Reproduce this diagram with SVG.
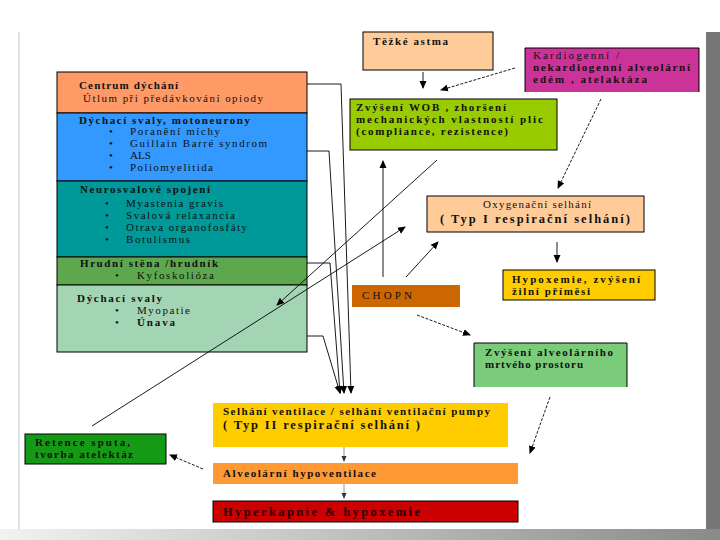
<svg xmlns="http://www.w3.org/2000/svg" width="720" height="540" viewBox="0 0 720 540">
<defs>
<marker id="ah" markerWidth="8" markerHeight="8" refX="7" refY="4" orient="auto" markerUnits="userSpaceOnUse"><path d="M0,0.5 L8,4 L0,7.5 Z" fill="#000"/></marker>
<marker id="ahg" markerWidth="6" markerHeight="6" refX="5" refY="3" orient="auto" markerUnits="userSpaceOnUse"><path d="M0,0.5 L6,3 L0,5.5 Z" fill="#333"/></marker>
<linearGradient id="bot" x1="0" x2="1" y1="0" y2="0"><stop offset="0" stop-color="#f2f2f2"/><stop offset="1" stop-color="#8a8a8a"/></linearGradient>
<style>
.b{stroke:#000;stroke-width:1}
.t{font-family:"Liberation Serif","Times New Roman",serif;font-size:11px;fill:#111}
.h{font-weight:bold}
.big{font-size:12.5px;font-weight:bold}
.c{fill:none;stroke:#000;stroke-width:0.9;marker-end:url(#ah)}
.d{stroke-dasharray:3,1.5}
.g{fill:none;stroke:#888;stroke-width:0.9;marker-end:url(#ahg)}
</style>
</defs>
<rect width="720" height="540" fill="#fff"/>
<line x1="19" y1="32" x2="19" y2="540" stroke="#cfdbe6" stroke-width="1.5"/>
<rect x="706" y="32" width="14" height="508" fill="#777"/>
<rect x="0" y="529" width="720" height="11" fill="url(#bot)"/>

<g id="centrum"><rect class="b" x="57" y="72" width="250" height="41" fill="#FF9966"/>
<text class="t h" x="79" y="89" textLength="99" lengthAdjust="spacing">Centrum dýchání</text>
<text class="t" x="83" y="102" textLength="180" lengthAdjust="spacing">Útlum při předávkování opiody</text></g>

<g id="motoneurony"><rect class="b" x="57" y="113" width="250" height="68" fill="#3399FF"/>
<text class="t h" x="79" y="124" textLength="171" lengthAdjust="spacing">Dýchací svaly, motoneurony</text>
<g class="t"><text x="109" y="135">•</text><text x="130" y="135" textLength="90" lengthAdjust="spacing">Poranění míchy</text>
<text x="109" y="147">•</text><text x="130" y="147" textLength="137" lengthAdjust="spacing">Guillain Barré syndrom</text>
<text x="109" y="159">•</text><text x="130" y="159">ALS</text>
<text x="109" y="171">•</text><text x="130" y="171" textLength="83" lengthAdjust="spacing">Poliomyelitida</text></g></g>

<g id="neurosvalove"><rect class="b" x="57" y="181" width="250" height="76" fill="#009999"/>
<text class="t h" x="80" y="193" textLength="130" lengthAdjust="spacing">Neurosvalové spojení</text>
<g class="t"><text x="105" y="207">•</text><text x="126" y="207" textLength="97" lengthAdjust="spacing">Myastenia gravis</text>
<text x="105" y="219">•</text><text x="126" y="219" textLength="109" lengthAdjust="spacing">Svalová relaxancia</text>
<text x="105" y="231">•</text><text x="126" y="231" textLength="121" lengthAdjust="spacing">Otrava organofosfáty</text>
<text x="105" y="243">•</text><text x="126" y="243" textLength="64" lengthAdjust="spacing">Botulismus</text></g></g>

<g id="hrudnik"><rect class="b" x="57" y="257" width="250" height="28" fill="#5DA84E"/>
<text class="t h" x="80" y="267" textLength="138" lengthAdjust="spacing">Hrudní stěna /hrudník</text>
<text class="t" x="115" y="279">•</text><text class="t" x="137" y="279" textLength="77" lengthAdjust="spacing">Kyfoskolióza</text></g>

<g id="dychaci-svaly"><rect class="b" x="57" y="285" width="250" height="67" fill="#A3D4B4"/>
<text class="t h" x="77" y="302" textLength="85" lengthAdjust="spacing">Dýchací svaly</text>
<text class="t" x="115" y="314">•</text><text class="t" x="137" y="314" textLength="53" lengthAdjust="spacing">Myopatie</text>
<text class="t" x="115" y="326">•</text><text class="t h" x="137" y="326" textLength="38" lengthAdjust="spacing">Únava</text></g>

<g id="astma"><rect class="b" x="363" y="32" width="130" height="38" fill="#FFCC99"/>
<text class="t h" x="373" y="45" textLength="75" lengthAdjust="spacing">Těžké astma</text></g>

<g id="kardiogenni"><path d="M525,92 V48 H699 V92" fill="#CC3399" stroke="#000"/>
<text class="t" x="533" y="59" textLength="86" lengthAdjust="spacing">Kardiogenní /</text>
<text class="t h" x="533" y="71" textLength="157" lengthAdjust="spacing">nekardiogenní alveolární</text>
<text class="t h" x="533" y="83" textLength="114" lengthAdjust="spacing">edém , atelaktáza</text></g>

<g id="wob"><rect class="b" x="350" y="99" width="207" height="51" fill="#99CC00"/>
<text class="t h" x="356" y="111" textLength="150" lengthAdjust="spacing">Zvýšení WOB , zhoršení</text>
<text class="t h" x="356" y="123" textLength="187" lengthAdjust="spacing">mechanických vlastností plic</text>
<text class="t h" x="356" y="135" textLength="152" lengthAdjust="spacing">(compliance, rezistence)</text></g>

<g id="oxygenacni"><rect class="b" x="427" y="196" width="217" height="36" fill="#FFCC99"/>
<text class="t" x="537" y="208" text-anchor="middle" textLength="108" lengthAdjust="spacing">Oxygenační selhání</text>
<text class="t big" x="440" y="223" textLength="190" lengthAdjust="spacing">( Typ I respirační selhání)</text></g>

<g id="hypoxemie"><rect class="b" x="503" y="270" width="152" height="30" fill="#FFCC00"/>
<text class="t h" x="512" y="283" textLength="128" lengthAdjust="spacing">Hypoxemie, zvýšení</text>
<text class="t h" x="512" y="295" textLength="78" lengthAdjust="spacing">žilní příměsi</text></g>

<g id="chopn"><rect x="352" y="285" width="108" height="22" fill="#CC6600"/>
<text class="t" x="362" y="299" textLength="50" lengthAdjust="spacing">CHOPN</text></g>

<g id="mrtvy-prostor"><path d="M474,387 V343 H627 V387" fill="#7ACC7A" stroke="#000"/>
<text class="t h" x="485" y="356" textLength="128" lengthAdjust="spacing">Zvýšení alveolárního</text>
<text class="t h" x="485" y="368" textLength="98" lengthAdjust="spacing">mrtvého prostoru</text></g>

<g id="retence"><rect class="b" x="25" y="434" width="141" height="30" fill="#159A15"/>
<text class="t h" x="35" y="446" textLength="95" lengthAdjust="spacing">Retence sputa,</text>
<text class="t h" x="35" y="458" textLength="98" lengthAdjust="spacing">tvorba atelektáz</text></g>

<g id="selhani-ventilace"><rect x="213" y="403" width="295" height="44" fill="#FFCC00"/>
<text class="t h" x="223" y="415" textLength="267" lengthAdjust="spacing">Selhání ventilace / selhání ventilační pumpy</text>
<text class="t big" x="223" y="429" textLength="197" lengthAdjust="spacing">( Typ II respirační selhání )</text></g>

<g id="hypoventilace"><rect x="213" y="463" width="305" height="21" fill="#FF9933"/>
<text class="t h" x="223" y="477" textLength="153" lengthAdjust="spacing">Alveolární hypoventilace</text></g>

<g id="hyperkapnie"><rect class="b" x="213" y="501" width="305" height="21" fill="#CC0000"/>
<text class="t big" x="223" y="516" textLength="197" lengthAdjust="spacing" style="fill:#2a0000">Hyperkapnie &amp; hypoxemie</text></g>

<g id="connectors">
<path class="c" d="M423,72 V88"/>
<path class="c d" d="M515,68 L441,90"/>
<path class="c d" d="M601,99 L558,188"/>
<path class="c" d="M383,277 V161"/>
<path class="c" d="M437,160 L277,305"/>
<path class="c" d="M92,426 L405,227"/>
<path class="c" d="M406,277 L438,242"/>
<path class="c" d="M557,242 V262"/>
<path class="c d" d="M417,315 L470,335"/>
<path class="c d" d="M550,397 L530,453"/>
<path class="c d" d="M203,469 L170,455"/>
<path class="c" d="M307,84 H341 L351,393"/>
<path class="c" d="M307,151 H329 L344,393"/>
<path class="c" d="M307,263 H330 L340,393"/>
<path class="c" d="M307,336 H323 L340,393"/>
<path class="g" d="M344,447 V461"/>
<path class="g" d="M344,484 V498"/>
</g>
</svg>
